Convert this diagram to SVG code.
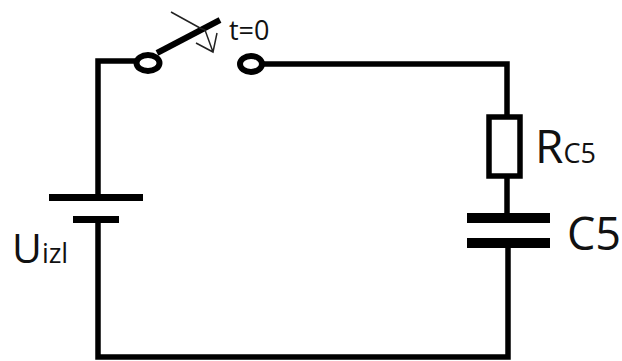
<svg xmlns="http://www.w3.org/2000/svg" width="622" height="361" viewBox="0 0 622 361">
<style>
.w{fill:none;stroke:#000;stroke-width:5.500}
.bar{fill:#000}
.thin{fill:none;stroke:#222;stroke-width:1.500}
.t{font-family:"Open Sans","Liberation Sans",sans-serif;fill:#111}
</style>
<rect width="622" height="361" fill="#fff"/>
<g id="connectors">
<path class="w" d="M137 61H98V197"/>
<path class="w" d="M98 221V357H508V247"/>
<path class="w" d="M263 64H507V115"/>
<path class="w" d="M507 178V213"/>
</g>
<g id="switch">
<ellipse cx="148" cy="63" rx="11.500" ry="8" fill="none" stroke="#000" stroke-width="6"/>
<ellipse cx="251" cy="64" rx="11" ry="8" fill="none" stroke="#000" stroke-width="6"/>
<path d="M157 53L220 20" fill="none" stroke="#000" stroke-width="6"/>
<path class="thin" d="M171 12L200 28L205 30L213 52M196 43L213 52L217 33"/>
<text class="t" x="229" y="40" font-size="27">t=0</text>
</g>
<g id="battery">
<rect class="bar" x="49" y="194" width="94" height="7"/>
<rect class="bar" x="73" y="216" width="46" height="7"/>
<text class="t" x="12" y="263" font-size="41">U<tspan font-size="27">izl</tspan></text>
</g>
<g id="resistor">
<rect x="489" y="117" width="31" height="59" fill="#fff" stroke="#000" stroke-width="5.500"/>
<text class="t" x="535" y="163" font-size="46">R<tspan font-size="27">C5</tspan></text>
</g>
<g id="capacitor">
<rect class="bar" x="467" y="213" width="83" height="10"/>
<rect class="bar" x="467" y="238" width="83" height="10"/>
<text class="t" x="567" y="250" font-size="45">C5</text>
</g>
</svg>
